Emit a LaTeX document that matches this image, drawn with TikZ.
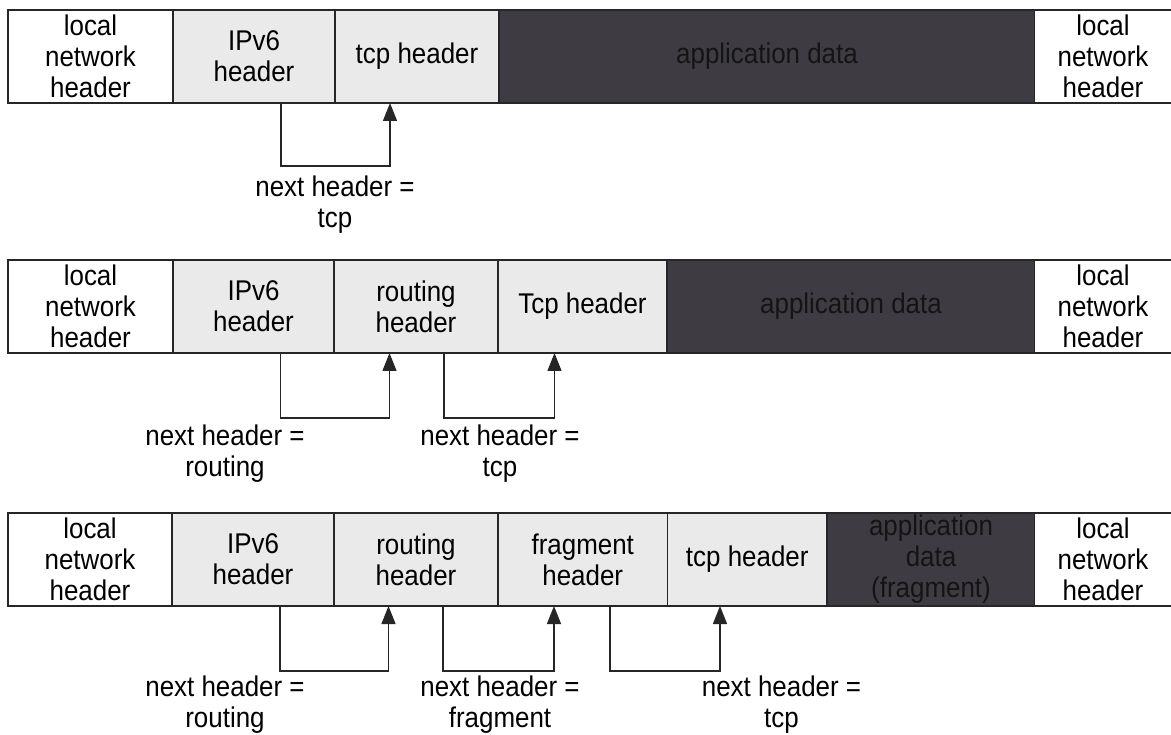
\documentclass[tikz,border=0pt]{standalone}
\usepackage{fontspec}
\setmainfont{Liberation Sans}[FakeStretch=0.91]
\usetikzlibrary{arrows.meta}

\definecolor{edge}{HTML}{262626}
\definecolor{lightcell}{HTML}{EAEAEA}
\definecolor{darkcell}{HTML}{3E3C42}
\definecolor{darktext}{HTML}{141414}
\newcommand\cellfont{\fontsize{28.5}{31}\selectfont}

\begin{document}
\begin{tikzpicture}[x=1pt,y=-1pt,
  cell/.style={draw=edge, line width=1.3pt, minimum height=93pt, inner sep=0pt,
    outer sep=0pt, align=center, font=\cellfont, anchor=north west},
  light/.style={cell, fill=lightcell},
  dark/.style={cell, fill=darkcell, text=darktext},
  plain/.style={cell, fill=white},
  tail/.style={cell, fill=white, draw=none},
  rim/.style={draw=edge, line width=1.3pt},
  link/.style={draw=edge, line width=1.3pt, -{Triangle[length=18pt,width=14pt]}},
  note/.style={align=center, font=\cellfont, inner sep=0pt, text=black}]

\fill[white] (0,0) rectangle (1171,735);
\useasboundingbox (0,0) rectangle (1171,735);

% --- packet 1: IPv6 + TCP
\node[plain, minimum width=165pt] (r1a) at (8,10) {local\\network\\header};
\node[light, minimum width=162pt] (r1b) at (r1a.north east) {IPv6\\header};
\node[light, minimum width=164pt] (r1c) at (r1b.north east) {tcp header};
\node[dark, minimum width=536pt] (r1d) at (r1c.north east) {application data};
\node[tail, minimum width=136pt] (r1e) at (r1d.north east) {local\\network\\header};
\draw[rim] (r1e.north west) -- ++(200,0);
\draw[rim] (r1e.south west) -- ++(200,0);

\draw[link] ([xshift=108pt]r1b.south west) -- ++(0,63) -| ([xshift=55pt]r1c.south west);
\node[note] (n1a) at (335,205) {next header =\\tcp};

% --- packet 2: IPv6 + routing + TCP
\node[plain, minimum width=165pt] (r2a) at (8,260) {local\\network\\header};
\node[light, minimum width=161pt] (r2b) at (r2a.north east) {IPv6\\header};
\node[light, minimum width=164pt] (r2c) at (r2b.north east) {routing\\header};
\node[light, minimum width=169pt] (r2d) at (r2c.north east) {Tcp header};
\node[dark, minimum width=368pt] (r2e) at (r2d.north east) {application data};
\node[tail, minimum width=136pt] (r2f) at (r2e.north east) {local\\network\\header};
\draw[rim] (r2f.north west) -- ++(200,0);
\draw[rim] (r2f.south west) -- ++(200,0);

\draw[link] ([xshift=107.5pt]r2b.south west) -- ++(0,65) -| ([xshift=55.5pt]r2c.south west);
\draw[link] ([xshift=110pt]r2c.south west) -- ++(0,65) -| ([xshift=56.5pt]r2d.south west);
\node[note] (n2a) at (225,454) {next header =\\routing};
\node[note] (n2b) at (500,454) {next header =\\tcp};

% --- packet 3: IPv6 + routing + fragment + TCP
\node[plain, minimum width=164pt] (r3a) at (8,513) {local\\network\\header};
\node[light, minimum width=162pt] (r3b) at (r3a.north east) {IPv6\\header};
\node[light, minimum width=164pt] (r3c) at (r3b.north east) {routing\\header};
\node[light, minimum width=169.5pt] (r3d) at (r3c.north east) {fragment\\header};
\node[light, minimum width=159.5pt] (r3e) at (r3d.north east) {tcp header};
\node[dark, minimum width=208pt] (r3f) at (r3e.north east) {application\\data\\(fragment)};
\node[tail, minimum width=136pt] (r3g) at (r3f.north east) {local\\network\\header};
\draw[rim] (r3g.north west) -- ++(200,0);
\draw[rim] (r3g.south west) -- ++(200,0);

\draw[link] ([xshift=108pt]r3b.south west) -- ++(0,65) -| ([xshift=54.5pt]r3c.south west);
\draw[link] ([xshift=109pt]r3c.south west) -- ++(0,65) -| ([xshift=56pt]r3d.south west);
\draw[link] ([xshift=112pt]r3d.south west) -- ++(0,65) -| ([xshift=52.5pt]r3e.south west);
\node[note] (n3a) at (225,705) {next header =\\routing};
\node[note] (n3b) at (500,705) {next header =\\fragment};
\node[note] (n3c) at (781.5,705) {next header =\\tcp};

\end{tikzpicture}
\end{document}
